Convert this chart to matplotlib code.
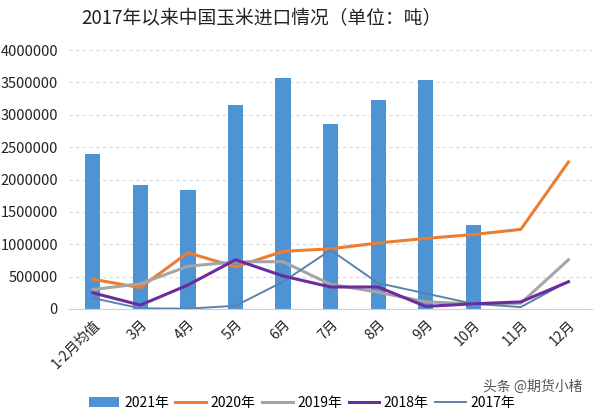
import matplotlib
matplotlib.use("Agg")
import matplotlib.pyplot as plt
import numpy as np

plt.rcParams['font.family'] = ['Noto Sans CJK SC', 'DejaVu Sans']

categories = ['1-2月均值', '3月', '4月', '5月', '6月', '7月', '8月', '9月', '10月', '11月', '12月']
y2021 = [2400000, 1920000, 1840000, 3150000, 3570000, 2850000, 3230000, 3530000, 1290000]
y2020 = [460000, 330000, 870000, 650000, 890000, 930000, 1020000, 1090000, 1150000, 1230000, 2270000]
y2019 = [300000, 390000, 660000, 730000, 730000, 380000, 260000, 110000, 80000, 90000, 760000]
y2018 = [250000, 60000, 370000, 760000, 510000, 340000, 340000, 40000, 80000, 110000, 420000]
y2017 = [170000, 10000, 5000, 50000, 420000, 910000, 400000, 240000, 80000, 30000, 430000]
yticks = [0, 500000, 1000000, 1500000, 2000000, 2500000, 3000000, 3500000, 4000000]

fig = plt.figure(figsize=(6, 4.17), dpi=100)
ax = fig.add_axes([0.115, 0.259, 0.872, 0.621])

x = np.arange(len(categories))
b = ax.bar(x[:len(y2021)], y2021, width=0.32, color='#4E93D3', label='2021年', zorder=2)
l20, = ax.plot(x, y2020, color='#ED7D31', lw=2.2, label='2020年', zorder=3)
l19, = ax.plot(x, y2019, color='#A5A5A5', lw=2.2, label='2019年', zorder=3)
l18, = ax.plot(x, y2018, color='#6A2C9E', lw=2.2, label='2018年', zorder=4)
l17, = ax.plot(x, y2017, color='#5A82AE', lw=1.4, label='2017年', zorder=3)

ax.set_xlim(-0.5, len(categories) - 0.5)
ax.set_ylim(0, 4000000)
ax.set_yticks(yticks)
ax.set_yticklabels([str(v) for v in yticks], fontsize=10.5, color='#222222')
ax.set_xticks(x)
ax.set_xticklabels(categories, rotation=45, ha='right', rotation_mode='anchor', fontsize=10, color='#222222')
ax.tick_params(axis='y', length=0, pad=8)
ax.tick_params(axis='x', length=0, pad=6)
ax.grid(axis='y', color='#d9d9d9', linestyle=(0, (3, 3)), lw=0.8, zorder=0)
for s in ['top', 'right', 'left']:
    ax.spines[s].set_visible(False)
ax.spines['bottom'].set_color('#d0d0d0')

fig.text(0.436, 0.955, '2017年以来中国玉米进口情况（单位：吨）', ha='center', va='center', fontsize=13.5, color='#222222')

ax.legend([b, l20, l19, l18, l17], ['2021年', '2020年', '2019年', '2018年', '2017年'],
          loc='center left', bbox_to_anchor=(0.038, -0.363), ncol=5, frameon=False, fontsize=10,
          handlelength=2.2, handletextpad=0.35, columnspacing=0.45, borderaxespad=0, borderpad=0)

fig.text(0.805, 0.072, '头条 @期货小楮', ha='left', va='center', fontsize=10, color='#555555')

fig.savefig('out.png', dpi=100)
